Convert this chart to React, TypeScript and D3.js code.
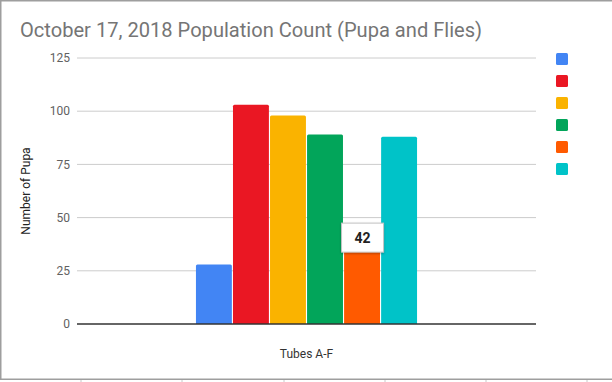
import React from "react";
import * as d3 from "d3";

const title = "October 17, 2018 Population Count (Pupa and Flies)";
const yAxisTitle = "Number of Pupa";
const xAxisTitle = "Tubes A-F";
const series = ["A", "B", "C", "D", "E", "F"];
const values = [28, 103, 98, 89, 42, 88];
const colors = ["#4285F4", "#EA1723", "#FAB300", "#02A55A", "#FF5A00", "#00C3C8"];
const yTicks = [0, 25, 50, 75, 100, 125];
const tooltipIndex = 4;

export default function App() {
  const W = 612, H = 382;
  const left = 77, right = 536, top = 58, bottom = 324;
  const y = d3.scaleLinear().domain([0, 125]).range([bottom, top]);
  const x = d3.scaleBand().domain(["g"]).range([left, right]).paddingInner(0).paddingOuter(0.538);
  const inner = d3.scaleBand().domain(series).range([x("g")!, x("g")! + x.bandwidth()]).paddingInner(0.03);
  const tipV = values[tooltipIndex];
  const tipX = inner(series[tooltipIndex])! + inner.bandwidth() / 2;
  const tipY = y(tipV);
  const colLines = [81, 182, 284, 385, 486, 587];
  return (
    <svg width={W} height={H} style={{ position: "absolute", left: 0, top: 0, fontFamily: "Roboto, sans-serif" }}>
      <defs>
        <filter id="sh" x="-20%" y="-20%" width="140%" height="160%">
          <feDropShadow dx="0" dy="1" stdDeviation="1" floodColor="#000" floodOpacity="0.3" />
        </filter>
      </defs>
      <rect x={0} y={0} width={W} height={H} fill="#fff" />
      <rect x={0.75} y={0.75} width={W + 10} height={378.5} fill="#fff" stroke="#9e9e9e" strokeWidth={1.5} />
      {colLines.map((cx, i) => (
        <line key={i} x1={cx} x2={cx} y1={380} y2={H} stroke="#c8c8c8" strokeWidth={1} />
      ))}
      <text x={20} y={37} fontSize={20.1} fill="#757575">{title}</text>
      {yTicks.map((t) => (
        <g key={t}>
          {t !== 0 && <line x1={left} x2={right} y1={y(t)} y2={y(t)} stroke="#cccccc" strokeWidth={1} />}
          <text x={70} y={y(t)} dy="0.35em" fontSize={12} textAnchor="end" fill="#616161">{t}</text>
        </g>
      ))}
      {series.map((s, i) => {
        const bx = inner(s)!;
        const by = y(values[i]);
        const bw = inner.bandwidth();
        const r = 1.5;
        const p = `M${bx},${bottom}V${by + r}Q${bx},${by} ${bx + r},${by}H${bx + bw - r}Q${bx + bw},${by} ${bx + bw},${by + r}V${bottom}Z`;
        return <path key={s} d={p} fill={colors[i]} />;
      })}
      <line x1={left} x2={right} y1={bottom} y2={bottom} stroke="#333" strokeWidth={1.5} />
      <text x={(left + right) / 2} y={358} fontSize={12} textAnchor="middle" fill="#333">{xAxisTitle}</text>
      <text transform={`translate(30,191) rotate(-90)`} fontSize={12} textAnchor="middle" fill="#222">{yAxisTitle}</text>
      {colors.map((c, i) => (
        <rect key={i} x={556} y={53 + i * 22} width={12} height={12} rx={1.5} fill={c} />
      ))}
      <g filter="url(#sh)">
        <rect x={tipX - 20.5} y={tipY - 11.5} width={42} height={29} fill="#fff" stroke="#c4c4c4" strokeWidth={1} />
      </g>
      <text x={tipX + 0.5} y={tipY + 3} dy="0.35em" fontSize={14} fontWeight="bold" textAnchor="middle" fill="#222">{tipV}</text>
    </svg>
  );
}
